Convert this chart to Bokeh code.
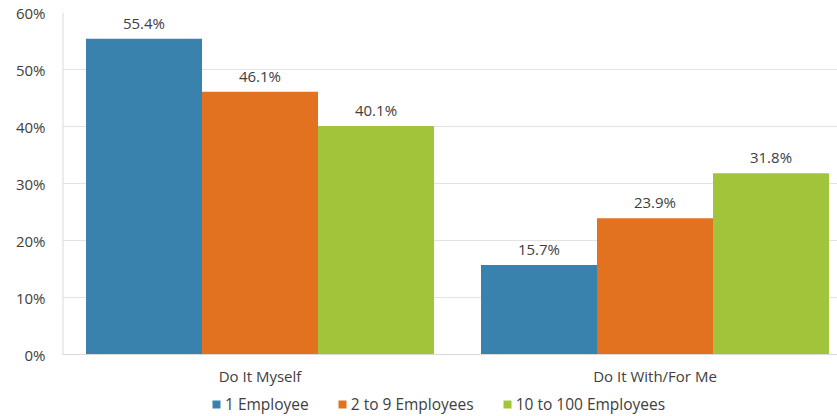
from bokeh.plotting import figure
from bokeh.models import ColumnDataSource, Range1d, Legend, LegendItem, FixedTicker, LabelSet, Span
from bokeh.core.properties import value
from bokeh.embed import file_html
from bokeh.resources import INLINE

categories = ["Do It Myself", "Do It With/For Me"]
series_names = ["1 Employee", "2 to 9 Employees", "10 to 100 Employees"]
one_employee = [55.4, 15.7]
two_to_nine = [46.1, 23.9]
ten_to_hundred = [40.1, 31.8]
colors = ["#3A82AE", "#E2721F", "#A2C43A"]
y_ticks = [0, 10, 20, 30, 40, 50, 60]

FONT = "Open Sans"
TXT = "#404040"
AXIS = "#D9D9D9"

p = figure(width=837, height=416, output_backend="svg", toolbar_location=None,
           x_range=Range1d(0, 775 / 395), y_range=Range1d(-62 / 5.7, 60),
           x_axis_location=None,
           min_border_left=62, min_border_right=0, min_border_top=12, min_border_bottom=0)
p.outline_line_color = None
p.background_fill_color = "white"
p.border_fill_color = "white"

p.xgrid.grid_line_color = None
p.ygrid.grid_line_color = "#E3E3E3"
p.ygrid.ticker = FixedTicker(ticks=y_ticks)

# axis lines (baseline and left spine limited to the value range)
p.add_layout(Span(location=0, dimension="width", line_color=AXIS, line_width=1))
p.segment(x0=[0], y0=[min(y_ticks)], x1=[0], y1=[max(y_ticks)], line_color=AXIS, line_width=2)

bw = 0.2937
offsets = [-bw, 0, bw]
all_series = [one_employee, two_to_nine, ten_to_hundred]
renderers = []
for i, (vals, col) in enumerate(zip(all_series, colors)):
    xs = [k + 0.5 + offsets[i] for k in range(len(categories))]
    src = ColumnDataSource(dict(x=xs, top=vals, lab=[f"{v:.1f}%" for v in vals]))
    r = p.vbar(x="x", top="top", width=bw, source=src, fill_color=col, line_color=None)
    renderers.append(r)
    p.add_layout(LabelSet(x="x", y="top", text="lab", source=src, text_align="center",
                          text_baseline="bottom", y_offset=6, text_font=value(FONT),
                          text_font_size="15px", text_color=TXT))

# category labels
cat_src = ColumnDataSource(dict(x=[k + 0.5 for k in range(len(categories))],
                                y=[0] * len(categories), t=categories))
p.text(x="x", y="y", text="t", source=cat_src, text_align="center", text_baseline="middle",
       y_offset=21, text_font=value(FONT), text_font_size="15px", text_color=TXT)

p.yaxis.ticker = FixedTicker(ticks=y_ticks)
p.yaxis.major_label_overrides = {t: f"{t}%" for t in y_ticks}
p.yaxis.axis_line_color = None
p.yaxis.major_tick_line_color = None
p.yaxis.minor_tick_line_color = None
p.yaxis.major_label_text_font = FONT
p.yaxis.major_label_text_font_size = "15px"
p.yaxis.major_label_text_color = TXT
p.yaxis.major_label_standoff = 11

legend = Legend(items=[LegendItem(label=n, renderers=[r]) for n, r in zip(series_names, renderers)],
                orientation="horizontal", location=(149, 1), padding=0, margin=0,
                spacing=28, glyph_width=10, glyph_height=10, label_standoff=4,
                label_text_font=FONT, label_text_font_size="15.5px", label_text_color=TXT,
                border_line_color=None, background_fill_alpha=0)
p.add_layout(legend, "center")

open("out.html", "w").write(file_html(p, INLINE))
